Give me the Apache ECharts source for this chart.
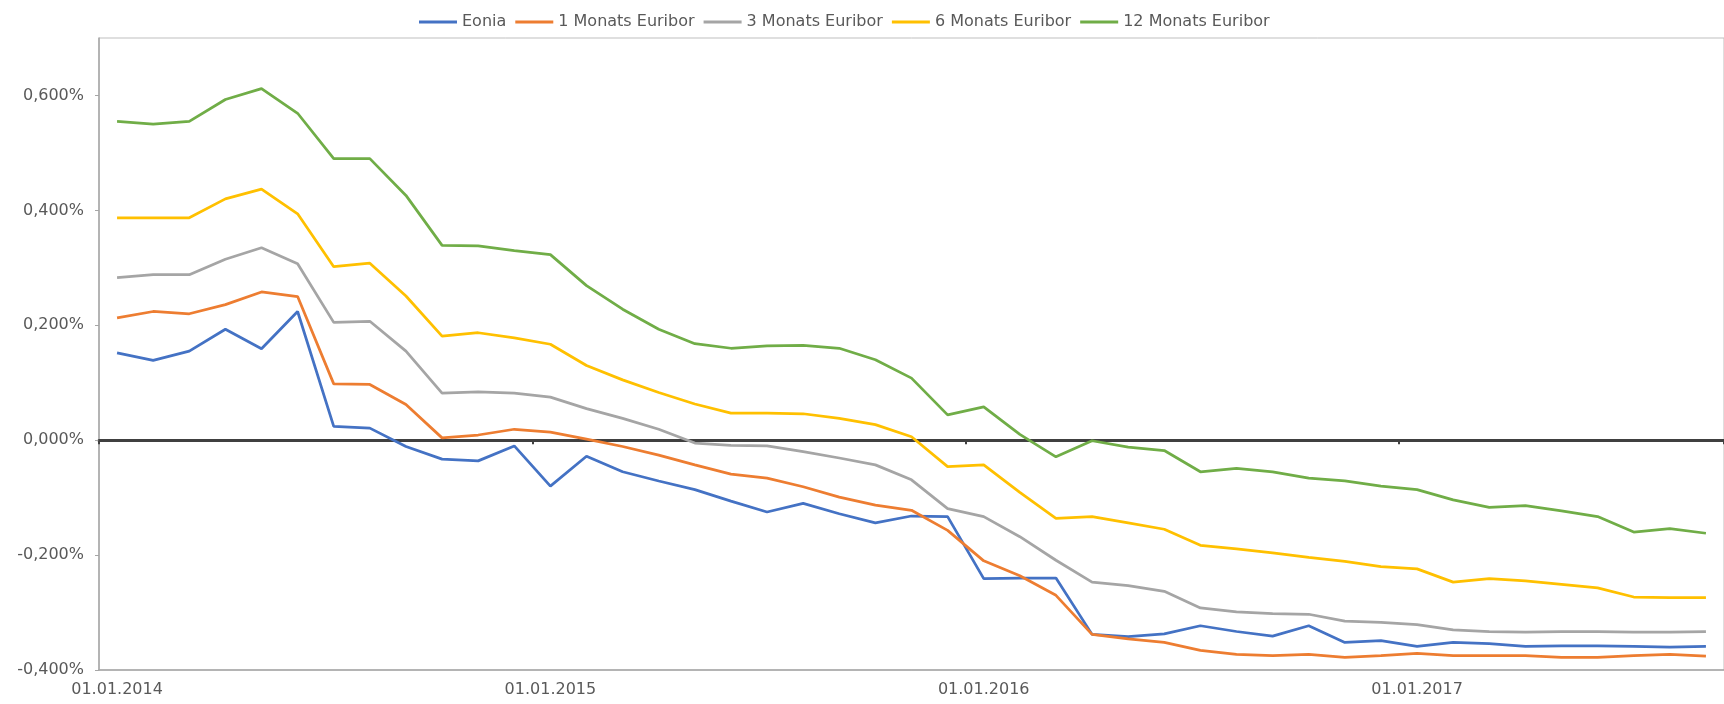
<!DOCTYPE html>
<html>
<head>
<meta charset="utf-8">
<script src="https://cdn.jsdelivr.net/npm/echarts@6/dist/echarts.min.js"></script>
<style>
  html, body { margin: 0; padding: 0; background: #fff; }
  #chart { width: 1724px; height: 704px; }
</style>
</head>
<body>
<div id="chart"></div>
<script>
const categories = [
  '01.01.2014','01.02.2014','01.03.2014','01.04.2014','01.05.2014','01.06.2014','01.07.2014','01.08.2014','01.09.2014','01.10.2014','01.11.2014','01.12.2014',
  '01.01.2015','01.02.2015','01.03.2015','01.04.2015','01.05.2015','01.06.2015','01.07.2015','01.08.2015','01.09.2015','01.10.2015','01.11.2015','01.12.2015',
  '01.01.2016','01.02.2016','01.03.2016','01.04.2016','01.05.2016','01.06.2016','01.07.2016','01.08.2016','01.09.2016','01.10.2016','01.11.2016','01.12.2016',
  '01.01.2017','01.02.2017','01.03.2017','01.04.2017','01.05.2017','01.06.2017','01.07.2017','01.08.2017','01.09.2017'
];
const seriesNames = ['Eonia', '1 Monats Euribor', '3 Monats Euribor', '6 Monats Euribor', '12 Monats Euribor'];
const eonia = [0.152,0.139,0.155,0.193,0.159,0.224,0.024,0.021,-0.011,-0.033,-0.036,-0.010,
  -0.080,-0.028,-0.055,-0.071,-0.086,-0.106,-0.125,-0.110,-0.128,-0.144,-0.132,-0.133,
  -0.241,-0.240,-0.240,-0.338,-0.342,-0.337,-0.323,-0.333,-0.341,-0.323,-0.352,-0.349,
  -0.359,-0.352,-0.354,-0.359,-0.358,-0.358,-0.359,-0.360,-0.359];
const euribor1m = [0.213,0.224,0.220,0.236,0.258,0.250,0.098,0.097,0.062,0.004,0.009,0.019,
  0.014,0.002,-0.011,-0.026,-0.043,-0.059,-0.066,-0.081,-0.099,-0.113,-0.122,-0.157,
  -0.210,-0.236,-0.270,-0.338,-0.346,-0.352,-0.366,-0.373,-0.375,-0.373,-0.378,-0.375,
  -0.371,-0.375,-0.375,-0.375,-0.378,-0.378,-0.375,-0.373,-0.376];
const euribor3m = [0.283,0.288,0.288,0.315,0.335,0.307,0.205,0.207,0.155,0.082,0.084,0.082,
  0.075,0.055,0.038,0.019,-0.005,-0.009,-0.010,-0.020,-0.031,-0.043,-0.069,-0.119,
  -0.133,-0.168,-0.209,-0.247,-0.253,-0.263,-0.292,-0.299,-0.302,-0.303,-0.315,-0.317,
  -0.321,-0.330,-0.333,-0.334,-0.333,-0.333,-0.334,-0.334,-0.333];
const euribor6m = [0.387,0.387,0.387,0.420,0.437,0.394,0.302,0.308,0.251,0.181,0.187,0.178,
  0.167,0.130,0.105,0.083,0.063,0.047,0.047,0.046,0.038,0.027,0.006,-0.046,
  -0.043,-0.091,-0.136,-0.133,-0.144,-0.155,-0.183,-0.189,-0.196,-0.204,-0.211,-0.220,
  -0.224,-0.247,-0.241,-0.245,-0.251,-0.257,-0.273,-0.274,-0.274];
const euribor12m = [0.555,0.550,0.555,0.593,0.612,0.569,0.490,0.490,0.426,0.339,0.338,0.330,
  0.323,0.269,0.228,0.193,0.168,0.160,0.164,0.165,0.160,0.140,0.108,0.044,
  0.058,0.010,-0.029,-0.001,-0.012,-0.018,-0.055,-0.049,-0.055,-0.066,-0.071,-0.080,
  -0.086,-0.104,-0.117,-0.114,-0.123,-0.133,-0.160,-0.154,-0.162];
const colors = ['#4472C4', '#ED7D31', '#A5A5A5', '#FFC000', '#70AD47'];
const allData = [eonia, euribor1m, euribor3m, euribor6m, euribor12m];

const textColor = '#595959';
const fontFamily = 'DejaVu Sans, Verdana, sans-serif';

const chart = echarts.init(document.getElementById('chart'), null, { renderer: 'canvas' });
chart.setOption({
  animation: false,
  backgroundColor: '#ffffff',
  color: colors,
  legend: {
    top: 9,
    left: 414,
    icon: 'rect',
    itemWidth: 38,
    itemHeight: 3,
    itemGap: 9,
    textStyle: { color: textColor, fontSize: 16, fontFamily: fontFamily },
    data: seriesNames
  },
  grid: {
    left: 99, right: 0, top: 38, bottom: 34,
    show: true, borderColor: '#BFBFBF', borderWidth: 1,
    containLabel: false
  },
  xAxis: [{
    type: 'category',
    data: categories,
    boundaryGap: true,
    axisLine: { onZero: true, lineStyle: { color: '#404040', width: 3 } },
    axisTick: { show: true, interval: 11, length: 4, lineStyle: { color: '#404040', width: 2 } },
    axisLabel: { show: false },
    splitLine: { show: false }
  }, {
    type: 'category',
    data: categories,
    boundaryGap: true,
    position: 'bottom',
    axisLine: { show: true, onZero: false, lineStyle: { color: '#A6A6A6', width: 1.5 } },
    axisTick: { show: false },
    axisLabel: {
      interval: 11, margin: 12,
      color: textColor, fontSize: 16, fontFamily: fontFamily
    },
    splitLine: { show: false }
  }],
  yAxis: {
    type: 'value',
    min: -0.4, max: 0.7, interval: 0.2,
    axisLine: { show: true, lineStyle: { color: '#A6A6A6', width: 1.5 } },
    axisTick: { show: true, length: 4, lineStyle: { color: '#A6A6A6' } },
    splitLine: { show: false },
    axisLabel: {
      showMaxLabel: false,
      margin: 15,
      color: textColor, fontSize: 16, fontFamily: fontFamily,
      formatter: function (v) {
        if (Math.abs(v) < 1e-9) v = 0;
        return v.toFixed(3).replace('.', ',') + '%';
      }
    }
  },
  series: seriesNames.map(function (name, i) {
    return {
      name: name,
      type: 'line',
      xAxisIndex: 0,
      data: allData[i],
      symbol: 'none',
      lineStyle: { width: 2.75, color: colors[i] },
      itemStyle: { color: colors[i] }
    };
  })
});
</script>
</body>
</html>
